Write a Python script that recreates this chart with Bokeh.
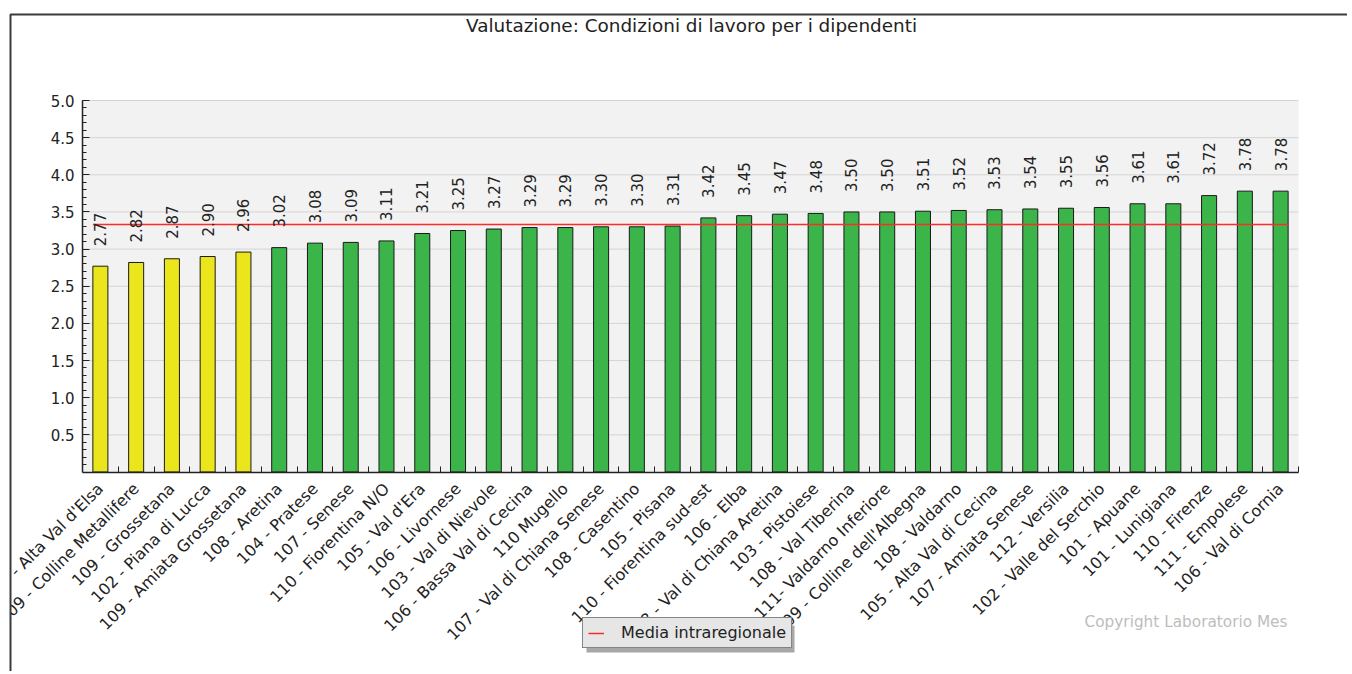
import math
from bokeh.plotting import figure
from bokeh.models import (ColumnDataSource, Range1d, FixedTicker, LabelSet, Label,
                          Legend, LegendItem, BoxAnnotation, PrintfTickFormatter)
from bokeh.core.properties import value
from bokeh.embed import file_html
from bokeh.resources import INLINE

categories = [
    "107 - Alta Val d'Elsa", "109 - Colline Metallifere", "109 - Grossetana",
    "102 - Piana di Lucca", "109 - Amiata Grossetana", "108 - Aretina",
    "104 - Pratese", "107 - Senese", "110 - Fiorentina N/O", "105 - Val d'Era",
    "106 - Livornese", "103 - Val di Nievole", "106 - Bassa Val di Cecina",
    "110 Mugello", "107 - Val di Chiana Senese", "108 - Casentino",
    "105 - Pisana", "110 - Fiorentina sud-est", "106 - Elba",
    "108 - Val di Chiana Aretina", "103 - Pistoiese", "108 - Val Tiberina",
    "111- Valdarno Inferiore", "109 - Colline dell'Albegna", "108 - Valdarno",
    "105 - Alta Val di Cecina", "107 - Amiata Senese", "112 - Versilia",
    "102 - Valle del Serchio", "101 - Apuane", "101 - Lunigiana",
    "110 - Firenze", "111 - Empolese", "106 - Val di Cornia",
]
values = [2.77, 2.82, 2.87, 2.90, 2.96, 3.02, 3.08, 3.09, 3.11, 3.21, 3.25,
          3.27, 3.29, 3.29, 3.30, 3.30, 3.31, 3.42, 3.45, 3.47, 3.48, 3.50,
          3.50, 3.51, 3.52, 3.53, 3.54, 3.55, 3.56, 3.61, 3.61, 3.72, 3.78, 3.78]
media_intraregionale = 3.33
y_ticks = [0.5, 1.0, 1.5, 2.0, 2.5, 3.0, 3.5, 4.0, 4.5, 5.0]
title_text = "Valutazione: Condizioni di lavoro per i dipendenti"
legend_text = "Media intraregionale"
copyright_text = "Copyright Laboratorio Mes"

YELLOW = "#ebe51b"
GREEN = "#3bb54a"
FONT = "DejaVu Sans"
BAR_W = 0.42

# ---- layout (pixels). The canvas starts OFF_X px left of the page so that
# long rotated labels are simply cut by the page frame, as in the original.
OFF_X = 100
CANVAS_W, CANVAS_H = 1347 + OFF_X, 671
PLOT_LEFT_PX, PLOT_RIGHT_PX = 82 + OFF_X, 1298 + OFF_X
PLOT_TOP_PX, PLOT_BOTTOM_PX = 100, 471.5      # value 5 and value 0
Y_MAX_V = 5.0

def sx(page_x):          # page x -> screen units (from frame left)
    return page_x + OFF_X

def sy(page_y):          # page y -> screen units (from frame bottom, upward)
    return CANVAS_H - page_y

n = len(categories)
px_per_cat = (PLOT_RIGHT_PX - PLOT_LEFT_PX) / n
x_start = -PLOT_LEFT_PX / px_per_cat
x_end = n + (CANVAS_W - PLOT_RIGHT_PX) / px_per_cat
px_per_unit = (PLOT_BOTTOM_PX - PLOT_TOP_PX) / Y_MAX_V
y_top = Y_MAX_V + PLOT_TOP_PX / px_per_unit
y_bottom = -(CANVAS_H - PLOT_BOTTOM_PX) / px_per_unit

xs = [i + 0.5 for i in range(n)]
colors = [YELLOW if v < 3.0 else GREEN for v in values]
labels = ["%.2f" % v for v in values]
src = ColumnDataSource(dict(x=xs, top=values, color=colors, label=labels, cat=categories))

p = figure(width=CANVAS_W, height=CANVAS_H, output_backend="svg", toolbar_location=None,
           x_range=Range1d(x_start, x_end), y_range=Range1d(y_bottom, y_top),
           min_border_left=0, min_border_right=0, min_border_top=0, min_border_bottom=0)
p.styles = {"margin-left": "-%dpx" % OFF_X}
p.background_fill_color = "white"
p.border_fill_color = "white"
p.outline_line_color = None

# grey plotting area
p.add_layout(BoxAnnotation(left=0, right=n, bottom=0, top=Y_MAX_V, fill_color="#f2f2f2",
                           fill_alpha=1, line_color=None, level="image"))
# horizontal grid lines at the y ticks
p.segment(x0=0, x1=n, y0=y_ticks, y1=y_ticks, line_color="#d4d4d4", line_width=1,
          level="underlay")

p.vbar(x="x", top="top", width=BAR_W, bottom=0, fill_color="color",
       line_color="#1a1a1a", line_width=1, source=src)

mean_r = p.line(x=[xs[0] - BAR_W / 2, xs[-1] + BAR_W / 2],
                y=[media_intraregionale, media_intraregionale],
                line_color="#ff2a2a", line_width=1.5)

p.add_layout(LabelSet(x="x", y="top", text="label", source=src, angle=math.pi / 2,
                      text_align="left", text_baseline="middle", y_offset=20,
                      text_font=value(FONT), text_font_size="15px", text_color="#222222"))

# x axis fixed at y = 0
p.xaxis.fixed_location = 0
p.xaxis.bounds = (0, n)
p.xaxis.ticker = FixedTicker(ticks=xs, minor_ticks=list(range(1, n + 1)))
p.xaxis.major_label_overrides = {x: c for x, c in zip(xs, categories)}
p.xaxis.major_label_orientation = math.pi / 4
p.xaxis.major_tick_in = 0
p.xaxis.major_tick_out = 0
p.xaxis.minor_tick_in = 6
p.xaxis.minor_tick_out = 0
p.xaxis.major_label_standoff = 14

# y axis fixed at x = 0
p.yaxis.fixed_location = 0
p.yaxis.bounds = (0, Y_MAX_V)
p.yaxis.ticker = FixedTicker(ticks=y_ticks, minor_ticks=[round(0.1 * k, 1) for k in range(1, 51)])
p.yaxis.formatter = PrintfTickFormatter(format="%.1f")
p.yaxis.major_tick_in = 7
p.yaxis.major_tick_out = 0
p.yaxis.minor_tick_in = 4
p.yaxis.minor_tick_out = 0
p.yaxis.major_label_standoff = 8

for ax in (p.xaxis, p.yaxis):
    ax.axis_line_color = "#222222"
    ax.axis_line_width = 1.5
    ax.major_tick_line_color = "#222222"
    ax.minor_tick_line_color = "#222222"
    ax.major_label_text_font = FONT
    ax.major_label_text_color = "#222222"
p.xaxis.major_label_text_font_size = "16px"
p.yaxis.major_label_text_font_size = "15px"

p.xgrid.visible = False
p.ygrid.visible = False

# title
p.add_layout(Label(x=sx(691), y=sy(25), x_units="screen", y_units="screen",
                   text=title_text, text_align="center", text_baseline="middle",
                   text_font=FONT, text_font_size="18.4px", text_color="#222222"))

# copyright
p.add_layout(Label(x=sx(1287), y=sy(621), x_units="screen", y_units="screen",
                   text=copyright_text, text_align="right",
                   text_baseline="middle", text_font=FONT, text_font_size="15.3px",
                   text_color="#bdbdbd"))

# legend with drop shadow
LEG_X, LEG_B = sx(582), sy(648)
p.add_layout(BoxAnnotation(left=LEG_X + 4, right=LEG_X + 4 + 208, bottom=LEG_B - 4, top=LEG_B + 23,
                           left_units="screen", right_units="screen",
                           bottom_units="screen", top_units="screen",
                           fill_color="#a8a8a8", fill_alpha=1, line_color=None))

legend = Legend(items=[LegendItem(label=legend_text, renderers=[mean_r])],
                location=(LEG_X, LEG_B), orientation="horizontal",
                background_fill_color="#e6e6e6", background_fill_alpha=1,
                border_line_color="#222222", border_line_width=1.5,
                label_text_font=FONT, label_text_font_size="16px", label_text_color="#222222",
                glyph_width=16, glyph_height=14, label_height=14, padding=5, margin=0,
                label_standoff=17, spacing=0)
p.add_layout(legend, "center")

# page frame: white strip left of the frame line, then the frame line (top and left)
p.add_layout(BoxAnnotation(right=sx(10), right_units="screen", fill_color="white",
                           fill_alpha=1, line_color=None, level="overlay"))
p.add_layout(BoxAnnotation(left=sx(10), top=sy(14), right=sx(1400), bottom=sy(700),
                           left_units="screen", right_units="screen",
                           bottom_units="screen", top_units="screen",
                           fill_alpha=0, line_color="#3a3a3a", line_alpha=1, line_width=2,
                           level="overlay"))

open("out.html", "w").write(file_html(p, INLINE))
